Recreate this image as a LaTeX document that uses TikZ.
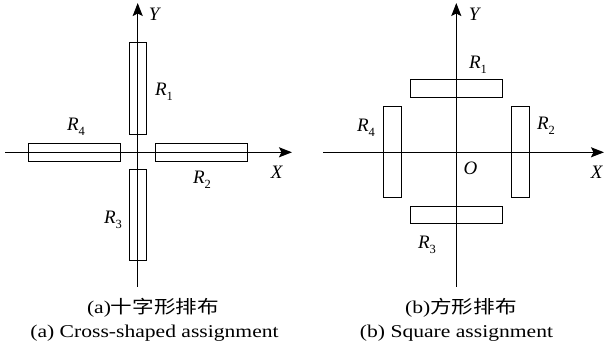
\documentclass[tikz,border=0pt]{standalone}
\usepackage{fontspec}
\usepackage{graphicx}
\setmainfont{Liberation Serif}
\newfontfamily\cjk{Noto Sans CJK SC}
\usetikzlibrary{arrows.meta}
\newcommand\Rlab[1]{\textit{R}\kern-0.2pt\raisebox{-0.55ex}{\fontsize{12.5}{12.5}\selectfont #1}}
\newcommand\wide[1]{\scalebox{1.2}[1]{#1}}
\tikzset{
  axis/.style={line width=1.4pt,-{Stealth[length=13pt,width=10pt,inset=2.5pt]}},
  barbox/.style={draw,line width=1pt,inner sep=0pt},
  lab/.style={font=\fontsize{19}{19}\selectfont,inner sep=0pt},
  captext/.style={font=\fontsize{18}{18}\selectfont,inner sep=0pt}
}
\begin{document}
\begin{tikzpicture}[x=1pt,y=-1pt]
\useasboundingbox (0,0) rectangle (606,352);
% ---- (a) ----
\coordinate (aYb) at (137.7,287);
\coordinate (aYt) at (137.7,3);
\coordinate (aXl) at (5,152.3);
\coordinate (aXr) at (292,152.3);
\draw[axis] (aYb) -- (aYt);
\draw[axis] (aXl) -- (aXr);
\node[barbox,minimum width=17.4pt,minimum height=92.4pt] (aR1) at (138,88.5) {};
\node[barbox,minimum width=17.4pt,minimum height=91pt] (aR3) at (138,215.5) {};
\node[barbox,minimum width=92pt,minimum height=17.7pt] (aR4) at (74.3,152.2) {};
\node[barbox,minimum width=91.6pt,minimum height=17.7pt] (aR2) at (201.5,152.2) {};
\node[lab] (aY) at (155,14) {\textit{Y}};
\node[lab] (aX) at (277,172) {\textit{X}};
\node[lab] (aL1) at (164,91.5) {\Rlab{1}};
\node[lab] (aL2) at (202,180) {\Rlab{2}};
\node[lab] (aL3) at (113,220) {\Rlab{3}};
\node[lab] (aL4) at (76,127) {\Rlab{4}};
% ---- (b) ----
\coordinate (bYb) at (456.3,287);
\coordinate (bYt) at (456.3,3);
\coordinate (bXl) at (323,152.3);
\coordinate (bXr) at (604,152.3);
\draw[axis] (bYb) -- (bYt);
\draw[axis] (bXl) -- (bXr);
\node[barbox,minimum width=92pt,minimum height=18.3pt] (bR1) at (456.3,88.2) {};
\node[barbox,minimum width=92pt,minimum height=17.3pt] (bR3) at (456.3,215.3) {};
\node[barbox,minimum width=18pt,minimum height=91.3pt] (bR4) at (392.3,151.7) {};
\node[barbox,minimum width=18pt,minimum height=91.3pt] (bR2) at (520,151.7) {};
\node[lab] (bY) at (475,14) {\textit{Y}};
\node[lab] (bX) at (597,172.5) {\textit{X}};
\node[lab] (bO) at (470.5,168.5) {\textit{O}};
\node[lab] (bL1) at (478,65) {\Rlab{1}};
\node[lab] (bL2) at (546,126) {\Rlab{2}};
\node[lab] (bL3) at (427,245) {\Rlab{3}};
\node[lab] (bL4) at (366,128) {\Rlab{4}};
% ---- captions ----
\node[captext] (ca1) at (153,308) {\wide{(a){\cjk 十字形排布}}};
\node[captext] (ca2) at (154.5,333) {\wide{(a) Cross-shaped assignment}};
\node[captext] (cb1) at (461,308) {\wide{(b){\cjk 方形排布}}};
\node[captext] (cb2) at (456.5,333) {\wide{(b) Square assignment}};
\end{tikzpicture}
\end{document}
